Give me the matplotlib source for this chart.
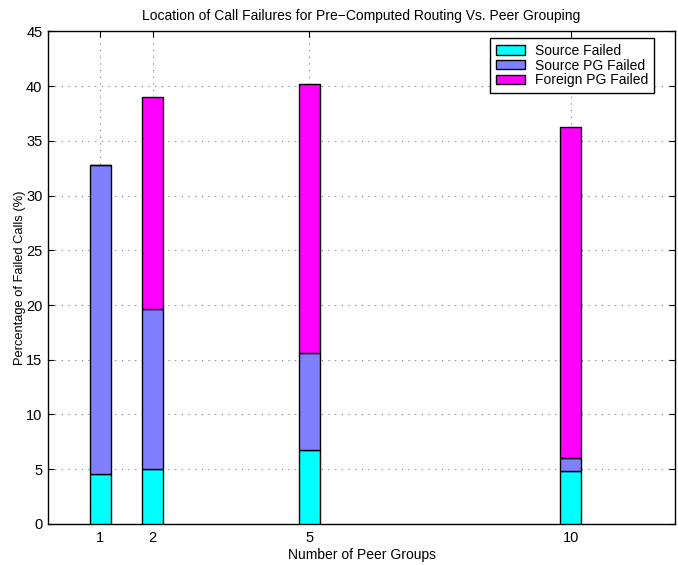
import matplotlib
matplotlib.use("Agg")
import matplotlib.pyplot as plt
import numpy as np

plt.rcParams['font.family'] = ['Liberation Sans', 'DejaVu Sans']

groups = [1, 2, 5, 10]
source_failed = [4.6, 5.0, 6.8, 4.85]
source_pg_failed = [28.2, 14.6, 8.8, 1.2]
foreign_pg_failed = [0.0, 19.4, 24.6, 30.25]
labels = ['Source Failed', 'Source PG Failed', 'Foreign PG Failed']
colors = ['#00FFFF', '#8080FF', '#FF00FF']

fig = plt.figure(figsize=(6.78, 5.65), dpi=100)
ax = fig.add_axes([0.0708, 0.0726, 0.925, 0.872])

x = np.array(groups, dtype=float)
s1 = np.array(source_failed)
s2 = np.array(source_pg_failed)
s3 = np.array(foreign_pg_failed)
w = 0.4
ax.bar(x, s1, w, color=colors[0], edgecolor='black', linewidth=1, label=labels[0], zorder=3)
ax.bar(x, s2, w, bottom=s1, color=colors[1], edgecolor='black', linewidth=1, label=labels[1], zorder=3)
ax.bar(x, s3, w, bottom=s1 + s2, color=colors[2], edgecolor='black', linewidth=1, label=labels[2], zorder=3)

ax.set_xlim(0, 12)
ax.set_ylim(0, 45)
ax.set_xticks(groups)
ax.set_yticks(np.arange(0, 46, 5))
ax.tick_params(direction='in', top=True, right=True, labelsize=10.5, length=4)
ax.tick_params(axis='x', pad=5)
ax.tick_params(axis='y', pad=4)
ax.grid(True, linestyle=(0, (1, 5)), color='#777777', linewidth=0.8, zorder=0)
ax.set_axisbelow(True)
for sp in ax.spines.values():
    sp.set_linewidth(1.0)

ax.set_title('Location of Call Failures for Pre\u2212Computed Routing Vs. Peer Grouping', fontsize=10, pad=8)
ax.set_xlabel('Number of Peer Groups', fontsize=10, labelpad=2)
ax.set_ylabel('Percentage of Failed Calls (%)', fontsize=9.3, labelpad=0)

leg = ax.legend(loc='upper right', bbox_to_anchor=(0.9665, 0.986), fontsize=10, fancybox=False,
                edgecolor='black', framealpha=1, borderaxespad=0, handlelength=2.1,
                handleheight=0.65, handletextpad=0.75, labelspacing=0.06, borderpad=0.4)
leg.get_frame().set_linewidth(1.0)

fig.savefig('out.png', dpi=100)
